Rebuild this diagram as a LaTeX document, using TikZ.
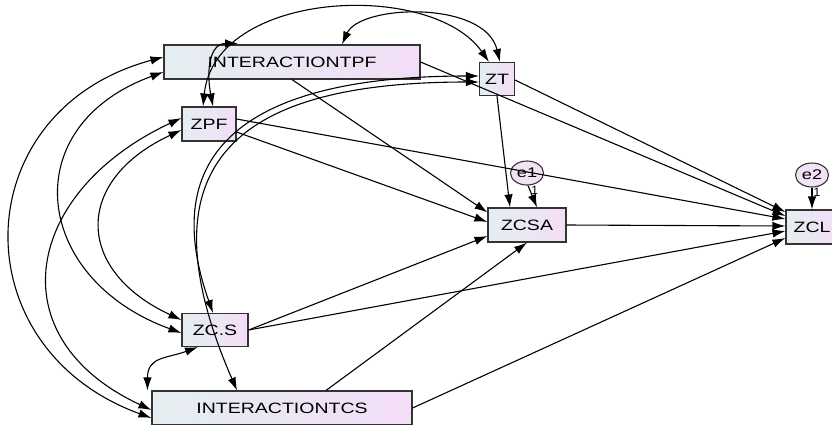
\documentclass[tikz,border=0pt]{standalone}
\usepackage{fontspec}
\setmainfont{Liberation Sans}
\usetikzlibrary{positioning,shapes.geometric,arrows.meta}
\definecolor{boxleft}{HTML}{E4EEF1}
\definecolor{boxright}{HTML}{F3DEF7}
\definecolor{errfill}{HTML}{F2E2F6}
\newcommand{\wide}[1]{\scalebox{1.3}[1]{#1}}

\begin{document}
\begin{tikzpicture}[x=1pt,y=1pt,->,>={Latex[length=13pt,width=8.5pt]},
line width=1.1pt,node distance=52pt,on grid,
var/.style={draw=black!80,line width=1.1pt,left color=boxleft,right color=boxright,
  minimum height=34pt,inner sep=0pt,font=\fontsize{15}{15}\selectfont},
err/.style={ellipse,draw=black!80,line width=1.1pt,fill=errfill,
  minimum width=33pt,minimum height=24pt,inner sep=0pt,
  font=\fontsize{14}{14}\selectfont},
one/.style={font=\fontsize{12}{12}\selectfont,inner sep=1pt},
cov/.style={<->}]
\useasboundingbox (0,0) rectangle (832,-424);
\node[var,minimum width=256pt] (TPF) at (292,-62) {\wide{INTERACTIONTPF}};
\node[var,minimum width=54pt] (ZPF) at (209,-124) {\wide{ZPF}};
\node[var,minimum width=35pt,minimum height=33pt] (ZT) at (497,-79) {\wide{ZT}};
\node[var,minimum width=78pt] (ZCSA) at (527,-225) {\wide{ZCSA}};
\node[var,minimum width=52pt] (ZCL) at (812,-227) {\wide{ZCL}};
\node[var,minimum width=66pt,minimum height=33pt] (ZCS) at (215,-330) {\wide{ZC.S}};
\node[var,minimum width=260pt] (TCS) at (282,-408) {\wide{INTERACTIONTCS}};
\node[err] (e1) [above=of ZCSA] {\wide{e1}};
\node[err] (e2) [above=of ZCL] {\wide{e2}};
% paths
\path (TPF.south) edge ([yshift=-5pt]ZCSA.north west);
\path ([yshift=-8pt]ZPF.east) edge ([yshift=3pt]ZCSA.west);
\path ([yshift=5pt]ZPF.east) edge ([yshift=8pt]ZCL.west);
\path (TPF.east) edge ([yshift=11pt]ZCL.west);
\path ([yshift=-1pt]ZT.east) edge ([yshift=15pt]ZCL.west);
\path (ZT.south) edge ([xshift=-17pt]ZCSA.north);
\path (ZCSA.east) edge ([yshift=1pt]ZCL.west);
\path (ZCS.east) edge ([yshift=-11pt]ZCSA.west);
\path (ZCS.east) edge ([yshift=-4pt]ZCL.west);
\path ([xshift=44pt]TCS.north) edge (ZCSA.south);
\path (TCS.east) edge ([yshift=-11pt]ZCL.west);
\path ([xshift=1pt]e1.south) edge node[one,right,pos=0.2] {1} ([xshift=10pt]ZCSA.north);
\path (e2) edge node[one,right,pos=0.2] {1} (ZCL);
% covariances
\draw[cov] ([yshift=5pt]TPF.west) to[out=195,in=160,looseness=1.45] ([yshift=-10pt]TCS.west);
\draw[cov] ([yshift=-10pt]TPF.west) to[out=200,in=160,looseness=1.55] ([yshift=-3pt]ZCS.west);
\draw[cov] ([yshift=6pt]ZPF.west) to[out=205,in=155,looseness=1.5] ([yshift=-2pt]TCS.west);
\draw[cov] ([yshift=-6pt]ZPF.west) to[out=205,in=155,looseness=1.6] ([yshift=10pt]ZCS.west);
\draw[cov] ([xshift=-17pt]ZCS.south) to[out=200,in=90,looseness=1.3] ([xshift=-4pt]TCS.north west);
\draw[cov] ([yshift=3pt]ZT.west) .. controls +(-220,0) and +(-60,170) .. ([xshift=-2pt]ZCS.north);
\draw[cov] ([yshift=-3pt]ZT.west) .. controls +(-240,0) and +(-100,230) .. ([xshift=-45pt]TCS.north);
\draw[cov] ([xshift=-6pt]ZPF.north) .. controls +(12,117) and +(-57,82) .. ([xshift=-8pt]ZT.north);
\draw[cov] ([xshift=50pt]TPF.north) .. controls +(18,40) and +(-15,62) .. ([xshift=3pt]ZT.north);
\draw[cov] ([xshift=4pt]ZPF.north) .. controls +(-7,37) and +(-28,0) .. ([xshift=-54pt,yshift=1pt]TPF.north);
\end{tikzpicture}
\end{document}
